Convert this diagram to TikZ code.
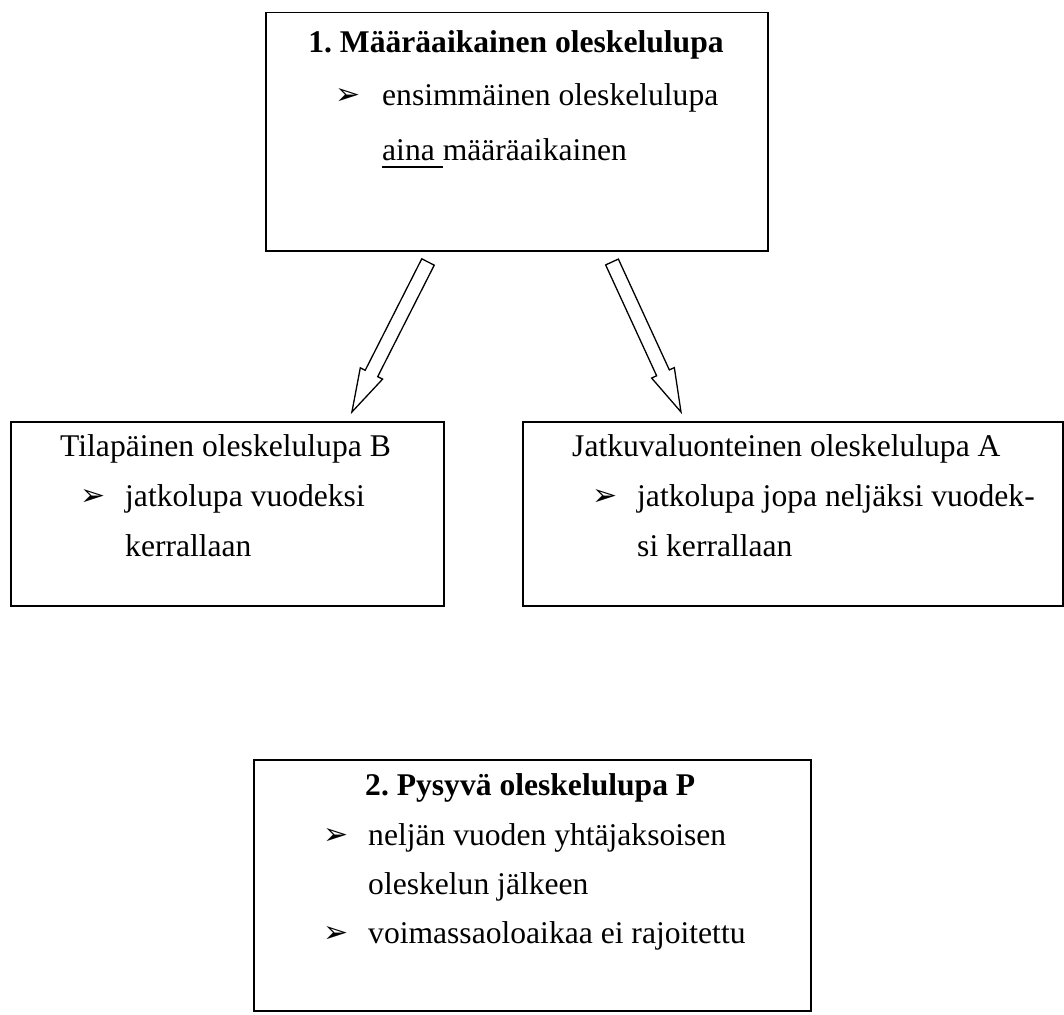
\documentclass[tikz,border=0pt]{standalone}
\usepackage{fontspec}
\setmainfont{Liberation Serif}
\newfontfamily\bulletfont{DejaVu Sans}
\frenchspacing
\begin{document}
\begin{tikzpicture}[x=1pt,y=1pt,
  box/.style={draw=black, line width=1.5pt, inner sep=0pt, anchor=north west},
  txt/.style={anchor=base west, inner sep=0pt, font=\fontsize{31.6}{38}\selectfont},
  ttl/.style={anchor=base, inner sep=0pt, font=\fontsize{31.6}{38}\selectfont\bfseries},
  ttlw/.style={anchor=base west, inner sep=0pt, font=\fontsize{31.6}{38}\selectfont\bfseries},
  bul/.style={anchor=base west, inner sep=0pt, font=\fontsize{30}{34}\bulletfont},
  blockarrow/.style={draw=black, line width=1.3pt, line join=miter, fill=white}]
\useasboundingbox (0,0) rectangle (1064,-1014);
% boxes
\node[box, minimum width=502pt, minimum height=238pt] (box1) at (265,-12) {};
\node[box, minimum width=433pt, minimum height=184pt] (boxB) at (10,-421) {};
\node[box, minimum width=540pt, minimum height=184pt] (boxA) at (522,-421) {};
\node[box, minimum width=557pt, minimum height=251pt] (boxP) at (253,-759) {};
% box 1
\node[ttl] (t1) at (516,-53) {1. Määräaikainen oleskelulupa};
\node[bul] (k1) at (335,-105) {➢};
\node[txt] (l11) at (382,-106) {ensimmäinen oleskelulupa};
\node[txt] (l12) at (382,-160) {\rlap{\rule[-7.5pt]{60.5pt}{1.5pt}}aina määräaikainen};
% box B
\node[txt] (tB) at (60,-456) {Tilapäinen oleskelulupa B};
\node[bul] (kB) at (80,-505) {➢};
\node[txt] (lB1) at (125,-506) {jatkolupa vuodeksi};
\node[txt] (lB2) at (125,-556) {kerrallaan};
% box A
\node[txt] (tA) at (572,-456) {Jatkuvaluonteinen oleskelulupa A};
\node[bul] (kA) at (592,-505) {➢};
\node[txt] (lA1) at (637,-506) {jatkolupa jopa neljäksi vuodek-};
\node[txt] (lA2) at (637,-556) {si kerrallaan};
% box P
\node[ttlw] (tP) at (365,-795) {2. Pysyvä oleskelulupa P};
\node[bul] (kP1) at (323,-844) {➢};
\node[txt] (lP1) at (368,-845) {neljän vuoden yhtäjaksoisen};
\node[txt] (lP2) at (368,-894) {oleskelun jälkeen};
\node[bul] (kP2) at (323,-942) {➢};
\node[txt] (lP3) at (368,-943) {voimassaoloaikaa ei rajoitettu};
% arrows
\coordinate (aLs) at (428,-262);
\coordinate (aRs) at (612,-262);
\begin{scope}[shift={(aLs)}, rotate=243.1]
  \draw[blockarrow] (0,-7) -- (125,-7) -- (125,-12.5) -- (168.2,0) -- (125,12.5) -- (125,7) -- (0,7) -- cycle;
\end{scope}
\begin{scope}[shift={(aRs)}, rotate=-65.3]
  \draw[blockarrow] (0,-7) -- (122,-7) -- (122,-12.5) -- (165.1,0) -- (122,12.5) -- (122,7) -- (0,7) -- cycle;
\end{scope}
\end{tikzpicture}
\end{document}
